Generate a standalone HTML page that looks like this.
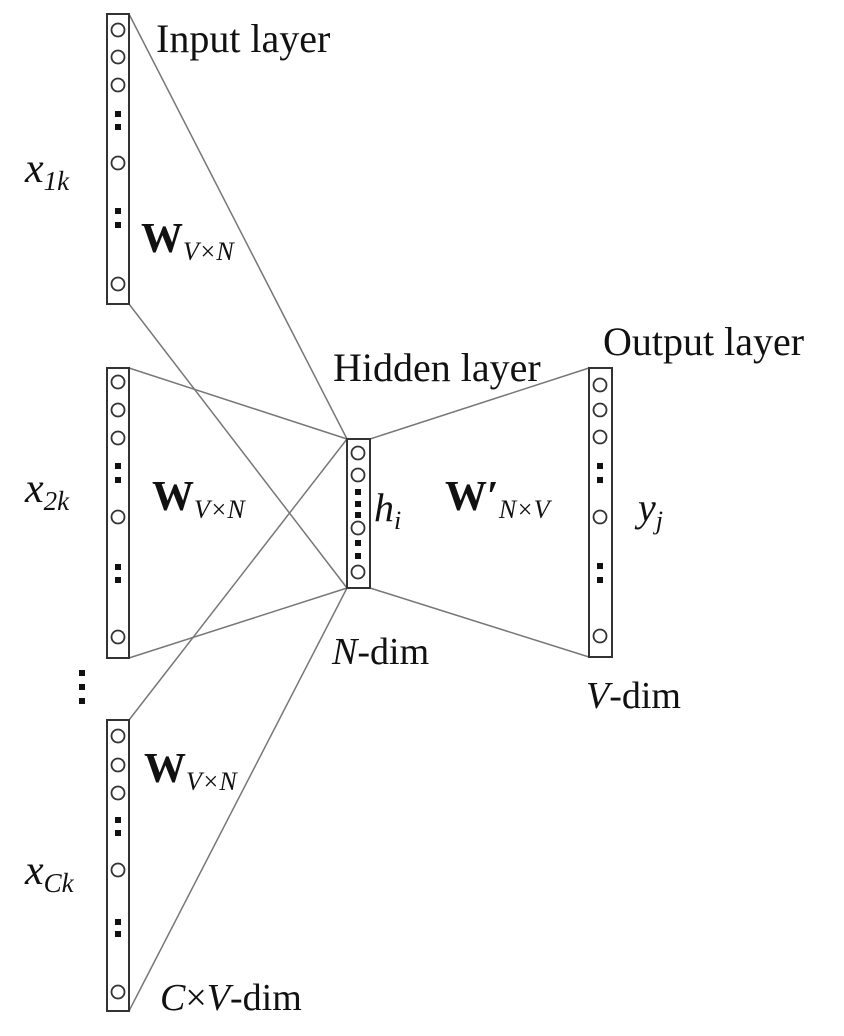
<!DOCTYPE html>
<html><head><meta charset="utf-8"><style>
html,body{margin:0;padding:0;background:#fff;}
svg{display:block;}
text{font-family:"Liberation Serif",serif;fill:#111;}
</style></head><body>
<svg width="844" height="1036" viewBox="0 0 844 1036" xmlns="http://www.w3.org/2000/svg">
<g stroke="#777" stroke-width="1.5" fill="none">
<line x1="129" y1="14" x2="347" y2="439"/>
<line x1="129" y1="304" x2="347" y2="588"/>
<line x1="129" y1="368" x2="347" y2="439"/>
<line x1="129" y1="658" x2="347" y2="588"/>
<line x1="129" y1="720" x2="347" y2="439"/>
<line x1="129" y1="1011" x2="347" y2="588"/>
<line x1="370" y1="439" x2="589" y2="368"/>
<line x1="370" y1="588" x2="589" y2="657"/>
</g>
<g stroke="#333" stroke-width="2" fill="#fff">
<rect x="107" y="14" width="22" height="290"/>
<rect x="107" y="368" width="22" height="290"/>
<rect x="107" y="720" width="22" height="291"/>
<rect x="347" y="439" width="23" height="149"/>
<rect x="589" y="368" width="23" height="289"/>
</g>
<g stroke="#333" stroke-width="1.8" fill="#fff">
<circle cx="118" cy="30" r="6.5"/><circle cx="118" cy="57" r="6.5"/><circle cx="118" cy="85" r="6.5"/><circle cx="118" cy="163" r="6.5"/><circle cx="118" cy="284" r="6.5"/>
<circle cx="118" cy="382" r="6.5"/><circle cx="118" cy="410" r="6.5"/><circle cx="118" cy="438" r="6.5"/><circle cx="118" cy="517" r="6.5"/><circle cx="118" cy="637" r="6.5"/>
<circle cx="118" cy="736" r="6.5"/><circle cx="118" cy="765" r="6.5"/><circle cx="118" cy="793" r="6.5"/><circle cx="118" cy="870" r="6.5"/><circle cx="118" cy="992" r="6.5"/>
<circle cx="358" cy="453" r="6.5"/><circle cx="358" cy="475" r="6.5"/><circle cx="358" cy="528" r="6.5"/><circle cx="358" cy="572" r="6.5"/>
<circle cx="600" cy="385" r="6.5"/><circle cx="600" cy="410" r="6.5"/><circle cx="600" cy="437" r="6.5"/><circle cx="600" cy="517" r="6.5"/><circle cx="600" cy="636" r="6.5"/>
</g>
<g fill="#111">
<rect x="115" y="111" width="6" height="6"/><rect x="115" y="124" width="6" height="6"/>
<rect x="115" y="208" width="6" height="6"/><rect x="115" y="222" width="6" height="6"/>
<rect x="115" y="463" width="6" height="6"/><rect x="115" y="477" width="6" height="6"/>
<rect x="115" y="564" width="6" height="6"/><rect x="115" y="577" width="6" height="6"/>
<rect x="115" y="817" width="6" height="6"/><rect x="115" y="830" width="6" height="6"/>
<rect x="115" y="919" width="6" height="6"/><rect x="115" y="931" width="6" height="6"/>
<rect x="355" y="489" width="6" height="6"/><rect x="355" y="501" width="6" height="6"/><rect x="355" y="512" width="6" height="6"/>
<rect x="355" y="540" width="6" height="6"/><rect x="355" y="553" width="6" height="6"/>
<rect x="597" y="463" width="6" height="6"/><rect x="597" y="477" width="6" height="6"/>
<rect x="597" y="563" width="6" height="6"/><rect x="597" y="577" width="6" height="6"/>
<rect x="79" y="670" width="6" height="6"/><rect x="79" y="684" width="6" height="6"/><rect x="79" y="698" width="6" height="6"/>
</g>
<text x="156" y="52" font-size="40">Input layer</text>
<text x="333" y="381" font-size="40">Hidden layer</text>
<text x="603" y="355" font-size="40">Output layer</text>
<text x="25" y="182" font-size="42" font-style="italic">x<tspan font-size="27" dy="8">1k</tspan></text>
<text x="25" y="502" font-size="42" font-style="italic">x<tspan font-size="27" dy="8">2k</tspan></text>
<text x="25" y="884" font-size="42" font-style="italic">x<tspan font-size="27" dy="8">Ck</tspan></text>
<text x="141" y="252" font-size="42" font-weight="bold">W<tspan font-size="26" font-weight="normal" font-style="italic" dy="8">V×N</tspan></text>
<text x="152" y="510" font-size="42" font-weight="bold">W<tspan font-size="26" font-weight="normal" font-style="italic" dy="8">V×N</tspan></text>
<text x="144" y="782" font-size="42" font-weight="bold">W<tspan font-size="26" font-weight="normal" font-style="italic" dy="8">V×N</tspan></text>
<text x="445" y="510" font-size="42" font-weight="bold">W′<tspan font-size="26" font-weight="normal" font-style="italic" dy="8">N×V</tspan></text>
<text x="374" y="521" font-size="40" font-style="italic">h<tspan font-size="26" dy="8">i</tspan></text>
<text x="638" y="521" font-size="40" font-style="italic">y<tspan font-size="26" dy="8">j</tspan></text>
<text x="332" y="664" font-size="38"><tspan font-style="italic">N</tspan>-dim</text>
<text x="586" y="708" font-size="38"><tspan font-style="italic">V</tspan>-dim</text>
<text x="160" y="1010" font-size="38"><tspan font-style="italic">C</tspan>×<tspan font-style="italic">V</tspan>-dim</text>
</svg>
</body></html>
